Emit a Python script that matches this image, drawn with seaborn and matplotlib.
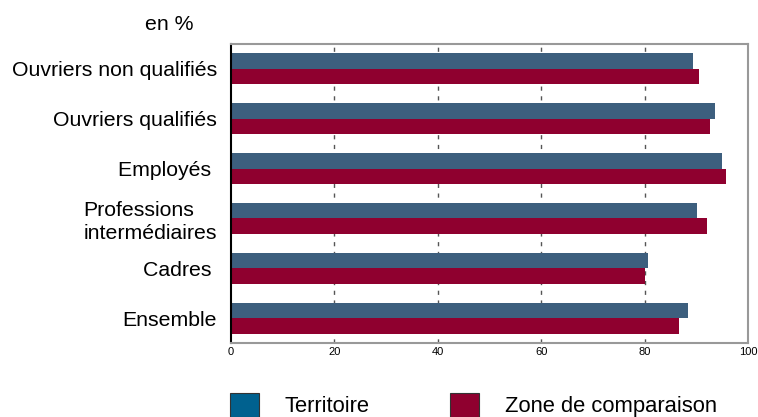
import matplotlib
matplotlib.use("Agg")
import matplotlib.pyplot as plt
from matplotlib.patches import Patch
import seaborn as sns
import pandas as pd

# données (en %)
categories = ["Ouvriers non qualifiés", "Ouvriers qualifiés", "Employés ",
              "Professions\nintermédiaires", "Cadres ", "Ensemble"]
territoire = [89.3, 93.6, 94.9, 90.1, 80.6, 88.4]
zone_comparaison = [90.5, 92.6, 95.7, 92.1, 80.1, 86.7]
series = ["Territoire", "Zone de comparaison"]
xticks = [0, 20, 40, 60, 80, 100]

bar_colors = ["#3d5f7e", "#8f002f"]
legend_colors = ["#00618f", "#8f002f"]

df = pd.DataFrame({
    "categorie": categories * 2,
    "valeur": territoire + zone_comparaison,
    "serie": [series[0]] * len(categories) + [series[1]] * len(categories),
})

sns.set_style("white")
plt.rcParams["font.family"] = ["Liberation Sans", "DejaVu Sans"]
plt.rcParams["text.color"] = "black"
plt.rcParams["xtick.color"] = "black"
plt.rcParams["ytick.color"] = "black"

fig = plt.figure(figsize=(7.58, 4.17), dpi=100)
ax = fig.add_axes([231 / 758, 1 - 343 / 417, 517 / 758, 299 / 417])

# grille verticale en pointillés
for x in xticks[1:-1]:
    ax.axvline(x, color="#555555", linestyle=(0, (3, 4)), linewidth=1, zorder=0)

sns.barplot(data=df, y="categorie", x="valeur", hue="serie", orient="h",
            palette=bar_colors, width=0.62, saturation=1, legend=False,
            linewidth=0, ax=ax, zorder=2)

ax.set_xlim(0, 100)
ax.set_ylim(5.5, -0.5)
ax.set_xticks(xticks)
ax.set_xticklabels([str(t) for t in xticks], fontsize=8)
ax.set_xlabel("")
ax.set_ylabel("")
ax.tick_params(axis="x", length=0, pad=3)
ax.tick_params(axis="y", length=0, pad=10, labelsize=15.3)
for lbl in ax.get_yticklabels():
    lbl.set_multialignment("left")
    lbl.set_linespacing(1.25)

for side in ["top", "right", "bottom"]:
    ax.spines[side].set_color("#999999")
    ax.spines[side].set_linewidth(1.5)
ax.spines["left"].set_color("black")
ax.spines["left"].set_linewidth(1.5)

fig.text(169 / 758, 1 - 25 / 417, "en %", fontsize=15.3, ha="center", va="center")

handles = [Patch(facecolor=c, edgecolor="#333333", linewidth=0.8) for c in legend_colors]
fig.legend(handles, series, loc="upper left", bbox_to_anchor=(230 / 758, 1 - 393 / 417),
           ncol=2, frameon=False, fontsize=15.8, handlelength=1.3, handleheight=1.3,
           handletextpad=1.17, columnspacing=3.7, borderpad=0, borderaxespad=0)

fig.savefig("out.png", dpi=100)
